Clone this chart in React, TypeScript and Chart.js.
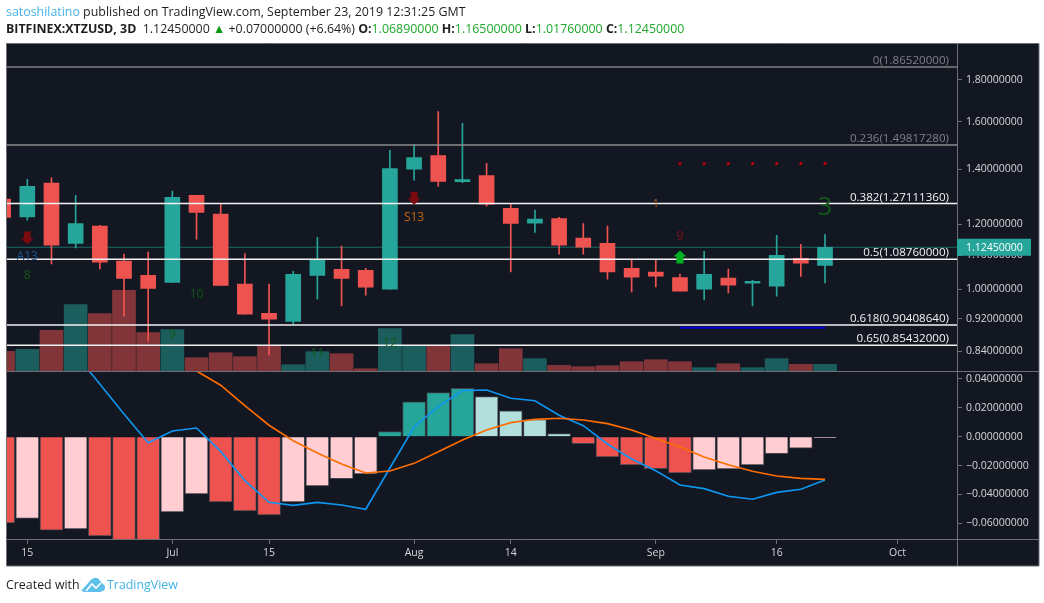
import React, { useEffect, useRef } from "react";
import { Chart, registerables } from "chart.js";

Chart.register(...registerables);

const FONT = '"Open Sans", "Noto Sans", sans-serif';
const RED = "#ef5350";
const TEAL = "#26a69a";

// candles, index -1 is the partial bar at the left edge
const barIndex = [-1, 0, 1, 2, 3, 4, 5, 6, 7, 8, 9, 10, 11, 12, 13, 14, 15, 16, 17, 18, 19, 20, 21, 22, 23, 24, 25, 26, 27, 28, 29, 30, 31, 32, 33];
const opens = [1.287, 1.224, 1.346, 1.137, 1.193, 1.082, 1.039, 1.019, 1.301, 1.234, 1.014, 0.934, 0.913, 1.039, 1.057, 1.054, 1.0, 1.4, 1.454, 1.352, 1.375, 1.254, 1.203, 1.219, 1.154, 1.137, 1.06, 1.049, 1.033, 1.0, 1.031, 1.017, 1.008, 1.09, 1.0689];
const highs = [1.287, 1.361, 1.366, 1.301, 1.196, 1.103, 1.109, 1.316, 1.301, 1.269, 1.105, 1.014, 1.051, 1.156, 1.128, 1.06, 1.476, 1.5, 1.646, 1.592, 1.423, 1.269, 1.248, 1.223, 1.202, 1.193, 1.087, 1.087, 1.043, 1.112, 1.058, 1.025, 1.163, 1.134, 1.165];
const lows = [1.223, 1.213, 1.073, 1.122, 1.058, 0.927, 0.864, 1.019, 1.15, 1.01, 0.932, 0.831, 0.907, 0.972, 0.954, 0.983, 1.0, 1.357, 1.334, 1.348, 1.262, 1.049, 1.172, 1.103, 1.103, 1.028, 0.992, 1.006, 0.994, 0.97, 0.989, 0.954, 0.98, 1.036, 1.0176];
const closes = [1.223, 1.334, 1.131, 1.202, 1.078, 1.03, 1.002, 1.294, 1.24, 1.01, 0.932, 0.919, 1.042, 1.084, 1.03, 1.005, 1.402, 1.446, 1.353, 1.36, 1.269, 1.202, 1.217, 1.131, 1.125, 1.049, 1.034, 1.037, 0.994, 1.042, 1.011, 1.022, 1.099, 1.075, 1.1245];
const volumes = [20, 22, 41, 66.7, 57.7, 81, 38.7, 41.7, 13.7, 18.7, 14.7, 26, 6.7, 19.7, 17.7, 2.7, 42.7, 25.7, 26.3, 36.7, 7.7, 22.7, 12.7, 6, 4.7, 5.7, 9.7, 11.7, 9.7, 3.7, 7.7, 3.7, 12.7, 7, 7];

// MACD pane
const histogram = [-0.0598, -0.0566, -0.0647, -0.064, -0.0688, -0.075, -0.072, -0.0522, -0.0397, -0.0453, -0.0515, -0.0543, -0.0453, -0.0342, -0.0291, -0.0259, 0.0035, 0.0242, 0.0305, 0.0335, 0.0277, 0.0178, 0.0118, 0.0021, -0.0048, -0.0141, -0.0196, -0.0222, -0.0252, -0.0231, -0.0224, -0.0196, -0.0118, -0.0079, -0.0007];
const histStrong = [1, 0, 1, 0, 1, 1, 1, 0, 0, 1, 1, 1, 0, 0, 0, 0, 1, 1, 1, 1, 0, 0, 0, 0, 1, 1, 1, 1, 1, 0, 0, 0, 0, 0, 0];
const macdLine = [0.085, 0.08, 0.07, 0.0568, 0.0365, 0.0157, -0.0042, 0.0039, 0.006, -0.0102, -0.0305, -0.0455, -0.0476, -0.0455, -0.0473, -0.0503, -0.0217, 0.0067, 0.0208, 0.0319, 0.0323, 0.0266, 0.0249, 0.0148, 0.0076, -0.0051, -0.0155, -0.0236, -0.0335, -0.036, -0.0413, -0.0434, -0.0386, -0.0365, -0.03];
const signalLine = [0.055, 0.058, 0.062, 0.066, 0.069, 0.07, 0.061, 0.053, 0.0455, 0.0356, 0.0215, 0.0079, -0.0028, -0.0113, -0.0189, -0.0252, -0.0238, -0.0185, -0.0104, -0.0023, 0.0046, 0.0097, 0.012, 0.0127, 0.0115, 0.009, 0.0046, -0.0012, -0.0072, -0.0141, -0.0194, -0.024, -0.0273, -0.0289, -0.0296];

// Fibonacci retracement
const fibRatios = ["0", "0.236", "0.382", "0.5", "0.618", "0.65"];
const fibLevels = [1.8652, 1.4981728, 1.2711136, 1.0876, 0.9040864, 0.85432];
const fibColors = ["#808080", "#8c8c8c", "#f2f2f2", "#f2f2f2", "#f2f2f2", "#f2f2f2"];

// axes
const priceTicks = [1.8, 1.6, 1.4, 1.2, 1.1, 1.0, 0.92, 0.84];
const macdTicks = [0.04, 0.02, 0, -0.02, -0.04, -0.06];
const timeTickIndex = [0, 6, 10, 16, 20, 26, 31, 36];
const timeTickLabels = ["15", "Jul", "15", "Aug", "14", "Sep", "16", "Oct"];
const xRange = [-0.84, 38.46];
const priceRange = [0.7937, 1.989];
const macdRange = [-0.0709, 0.0452];
const volumeRange = [-167.6, 327.4];
const lastPrice = 1.1245;

// study overlays
const dotIndex = [27, 28, 29, 30, 31, 32, 33];
const dotPrices = [1.422, 1.422, 1.422, 1.422, 1.422, 1.422, 1.422];
const blueIndex = [27, 33];
const bluePrices = [0.897, 0.897];
const labelIndex = [16, 0, 0, 7, 6, 12, 15, 26, 27, 33];
const labelPrices = [1.223, 1.094, 1.04, 0.986, 0.879, 0.8335, 0.857, 1.269, 1.16, 1.255];
const labelTexts = ["S13", "A13", "8", "10", "9", "11", "12", "1", "9", "3"];
const labelColors = ["#c4650f", "#17558f", "#0f5a16", "#0f5a16", "#0f5a16", "#0f5a16", "#0f5a16", "#c4650f", "#7d0f12", "#0f5a16"];
const labelSizes = [12, 12, 12, 12, 12, 12, 12, 10, 12, 25];
const arrowIndex = [0, 16, 27];
const arrowPrices = [1.154, 1.29, 1.094];
const arrowDirs = [-1, -1, 1];
const arrowColors = ["#7a0a0e", "#7a0a0e", "#00b020"];

const framePlugin = {
  id: "frame",
  beforeDraw(chart: any) {
    const { ctx, chartArea: a, width, height } = chart;
    const right = width - 5;
    const bottom = height - 37;
    const top = a.top - 1;
    const left = a.left - 0.5;
    ctx.save();
    ctx.fillStyle = "#131722";
    ctx.fillRect(left, top, right - left, bottom - top);
    ctx.restore();
  },
  afterDraw(chart: any) {
    const { ctx, chartArea: a, width, height, scales } = chart;
    const right = width - 5;
    const bottom = height - 37;
    const top = a.top - 0.5;
    const left = a.left - 0.5;
    ctx.save();
    ctx.strokeStyle = "#6e7076";
    ctx.lineWidth = 1;
    const paneY = Math.round(scales.yMain.bottom) + 0.5;
    const axisY = Math.round(a.bottom) + 0.5;
    const axisX = Math.round(a.right) + 0.5;
    ctx.beginPath();
    ctx.rect(left, top, right - left, bottom - top);
    ctx.moveTo(left, paneY);
    ctx.lineTo(right, paneY);
    ctx.moveTo(left, axisY);
    ctx.lineTo(right, axisY);
    ctx.moveTo(axisX, top);
    ctx.lineTo(axisX, bottom);
    ctx.stroke();

    // last price tag
    const y = scales.yMain.getPixelForValue(lastPrice);
    ctx.fillStyle = TEAL;
    ctx.fillRect(a.right, y - 8.5, 74, 17);
    ctx.fillStyle = "#ffffff";
    ctx.font = `10.5px ${FONT}`;
    ctx.textBaseline = "middle";
    ctx.textAlign = "left";
    ctx.fillText(lastPrice.toFixed(8), 966, y + 0.5);
    ctx.restore();
  },
  afterDatasetsDraw(chart: any) {
    const { ctx, chartArea: a, scales } = chart;
    const { x, yMain } = scales;
    ctx.save();
    // fib labels
    ctx.textAlign = "right";
    ctx.textBaseline = "bottom";
    ctx.font = `11.6px ${FONT}`;
    fibLevels.forEach((lv, i) => {
      const label = `${fibRatios[i]}(${lv.toFixed(8)})`;
      ctx.fillStyle = i < 2 ? "#7f8187" : "#f2f2f2";
      ctx.fillText(label, a.right - 8, yMain.getPixelForValue(lv) - 0.5);
    });
    // study labels
    ctx.textAlign = "center";
    ctx.textBaseline = "middle";
    labelTexts.forEach((t, i) => {
      ctx.font = `${labelSizes[i]}px ${FONT}`;
      ctx.fillStyle = labelColors[i];
      ctx.fillText(t, x.getPixelForValue(labelIndex[i]), yMain.getPixelForValue(labelPrices[i]));
    });
    // study arrows
    arrowIndex.forEach((idx, i) => {
      const cx = x.getPixelForValue(idx);
      const cy = yMain.getPixelForValue(arrowPrices[i]);
      const d = arrowDirs[i];
      ctx.fillStyle = arrowColors[i];
      ctx.beginPath();
      ctx.moveTo(cx, cy - 6.5 * d);
      ctx.lineTo(cx + 6.5, cy - 0.5 * d);
      ctx.lineTo(cx + 3.5, cy - 0.5 * d);
      ctx.lineTo(cx + 3.5, cy + 6.5 * d);
      ctx.lineTo(cx - 3.5, cy + 6.5 * d);
      ctx.lineTo(cx - 3.5, cy - 0.5 * d);
      ctx.lineTo(cx - 6.5, cy - 0.5 * d);
      ctx.closePath();
      ctx.fill();
    });
    ctx.restore();
  },
};

const candleColor = (i: number) => (closes[i] >= opens[i] ? TEAL : RED);
const volumeColor = (i: number) => (closes[i] >= opens[i] ? "rgba(38,166,154,0.5)" : "rgba(239,83,80,0.5)");
const histColor = (i: number) =>
  histogram[i] >= 0 ? (histStrong[i] ? TEAL : "#b2dfdb") : histStrong[i] ? RED : "#ffcdd2";

function buildDatasets(): any[] {
  const volumeSet = {
    type: "bar",
    label: "Volume",
    yAxisID: "yVol",
    order: 20,
    grouped: false,
    barThickness: 23,
    backgroundColor: barIndex.map((_, i) => volumeColor(i)),
    data: barIndex.map((x, i) => ({ x, y: volumes[i] })),
  };
  const wicks = {
    type: "bar",
    label: "Wicks",
    yAxisID: "yMain",
    order: 15,
    grouped: false,
    barThickness: 1,
    backgroundColor: barIndex.map((_, i) => candleColor(i)),
    data: barIndex.map((x, i) => ({ x, y: [lows[i], highs[i]] })),
  };
  const bodies = {
    type: "bar",
    label: "Bodies",
    yAxisID: "yMain",
    order: 14,
    grouped: false,
    barThickness: 15,
    backgroundColor: barIndex.map((_, i) => candleColor(i)),
    data: barIndex.map((x, i) => ({ x, y: [opens[i], closes[i]] })),
  };
  const lastLine = {
    type: "line",
    label: "Last",
    yAxisID: "yMain",
    order: 16,
    borderColor: "#1d6a66",
    borderWidth: 1,
    pointRadius: 0,
    data: xRange.map((x) => ({ x, y: lastPrice })),
  };
  const fibs = fibLevels.map((lv, i) => ({
    type: "line",
    label: `Fib ${fibRatios[i]}`,
    yAxisID: "yMain",
    order: 5,
    borderColor: fibColors[i],
    borderWidth: 1.5,
    pointRadius: 0,
    data: xRange.map((x) => ({ x, y: lv })),
  }));
  const dots = {
    type: "line",
    label: "Dots",
    yAxisID: "yMain",
    order: 4,
    showLine: false,
    pointRadius: 1.6,
    pointBackgroundColor: "#c00006",
    pointBorderWidth: 0,
    data: dotIndex.map((x, i) => ({ x, y: dotPrices[i] })),
  };
  const blue = {
    type: "line",
    label: "Blue",
    yAxisID: "yMain",
    order: 4,
    borderColor: "#0000d8",
    borderWidth: 2,
    pointRadius: 0,
    data: blueIndex.map((x, i) => ({ x, y: bluePrices[i] })),
  };
  const hist = {
    type: "bar",
    label: "Histogram",
    yAxisID: "yMacd",
    order: 9,
    grouped: false,
    barThickness: 23,
    borderWidth: 1,
    borderColor: "rgba(70,72,80,0.9)",
    backgroundColor: barIndex.map((_, i) => histColor(i)),
    data: barIndex.map((x, i) => ({ x, y: histogram[i] })),
  };
  const macd = {
    type: "line",
    label: "MACD",
    yAxisID: "yMacd",
    order: 8,
    borderColor: "#0d96f2",
    borderWidth: 1.6,
    pointRadius: 0,
    clip: 0,
    data: barIndex.map((x, i) => ({ x, y: macdLine[i] })),
  };
  const signal = {
    type: "line",
    label: "Signal",
    yAxisID: "yMacd",
    order: 7,
    borderColor: "#ff6d00",
    borderWidth: 1.6,
    pointRadius: 0,
    clip: 0,
    data: barIndex.map((x, i) => ({ x, y: signalLine[i] })),
  };
  return [volumeSet, wicks, bodies, lastLine, ...fibs, dots, blue, hist, macd, signal];
}

const axisFont = { family: FONT, size: 10.5 };
const grid = { display: true, drawOnChartArea: false, drawTicks: true, tickLength: 5, color: "#6e7076" };
const setWidth = (s: any) => {
  s.width = 82;
};

function ChartCanvas() {
  const ref = useRef<HTMLCanvasElement | null>(null);
  useEffect(() => {
    const chart = new Chart(ref.current as HTMLCanvasElement, {
      type: "bar",
      data: { datasets: buildDatasets() },
      plugins: [framePlugin],
      options: {
        animation: false,
        responsive: false,
        events: [],
        layout: { padding: { left: 7, top: 44, right: 5, bottom: 37 } },
        plugins: { legend: { display: false }, tooltip: { enabled: false }, title: { display: false } },
        scales: {
          x: {
            type: "linear",
            axis: "x",
            position: "bottom",
            min: xRange[0],
            max: xRange[1],
            offset: false,
            grid: { ...grid, offset: false },
            border: { display: false },
            afterFit: (s: any) => {
              s.height = 27;
            },
            afterBuildTicks: (s: any) => {
              s.ticks = timeTickIndex.map((value) => ({ value }));
            },
            ticks: {
              autoSkip: false,
              maxRotation: 0,
              color: "#d6d6d6",
              font: axisFont,
              padding: 3,
              callback: (v: any) => timeTickLabels[timeTickIndex.indexOf(v)],
            },
          },
          yMain: {
            type: "logarithmic",
            axis: "y",
            position: "right",
            stack: "right",
            stackWeight: 327.4,
            weight: 1,
            min: priceRange[0],
            max: priceRange[1],
            grid,
            border: { display: false },
            afterFit: setWidth,
            afterBuildTicks: (s: any) => {
              s.ticks = priceTicks.map((value) => ({ value }));
            },
            ticks: {
              autoSkip: false,
              color: "#d6d6d6",
              font: axisFont,
              padding: 4,
              crossAlign: "near",
              callback: (v: any) => Number(v).toFixed(8),
            },
          },
          yMacd: {
            type: "linear",
            axis: "y",
            position: "right",
            stack: "right",
            stackWeight: 167.6,
            weight: 2,
            min: macdRange[0],
            max: macdRange[1],
            grid,
            border: { display: false },
            afterFit: setWidth,
            afterBuildTicks: (s: any) => {
              s.ticks = macdTicks.map((value) => ({ value }));
            },
            ticks: {
              autoSkip: false,
              color: "#d6d6d6",
              font: axisFont,
              padding: 4,
              crossAlign: "near",
              callback: (v: any) => {
                const n = Number(v);
                return (n < 0 ? "\u2212" : "") + Math.abs(n).toFixed(8);
              },
            },
          },
          yVol: {
            type: "linear",
            axis: "y",
            position: "left",
            display: false,
            min: volumeRange[0],
            max: volumeRange[1],
          },
        },
      } as any,
    });
    return () => chart.destroy();
  }, []);
  return (
    <canvas ref={ref} width={1044} height={603} style={{ position: "absolute", left: 0, top: 0, width: 1044, height: 603 }} />
  );
}

const textBase: React.CSSProperties = {
  position: "absolute",
  fontFamily: FONT,
  whiteSpace: "nowrap",
  color: "#1e1e1e",
  lineHeight: "16px",
};
const green = { color: "#1fa82a" };

export default function App() {
  return (
    <div style={{ position: "fixed", left: 0, top: 0, width: 1044, height: 603, background: "#fff", overflow: "hidden" }}>
      <ChartCanvas />
      <div style={{ ...textBase, left: 6, top: 4, fontSize: 12.4 }}>
        <span style={{ color: "#45b4e6" }}>satoshilatino</span> published on TradingView.com, September 23, 2019 12:31:25 GMT
      </div>
      <div style={{ ...textBase, left: 6, top: 21, fontSize: 12.4 }}>
        <b>BITFINEX:XTZUSD, 3D</b>&nbsp; 1.12450000 <span style={{ color: "#0a9a0a" }}>▲</span> +0.07000000 (+6.64%) <b>O:</b>
        <span style={green}>1.06890000</span> <b>H:</b>
        <span style={green}>1.16500000</span> <b>L:</b>
        <span style={green}>1.01760000</span> <b>C:</b>
        <span style={green}>1.12450000</span>
      </div>
      <div style={{ ...textBase, left: 6, top: 577, fontSize: 12.4 }}>Created with</div>
      <svg width="25" height="16" viewBox="0 0 25 16" style={{ position: "absolute", left: 81, top: 577 }}>
        <path d="M0 14 L8 5 Q10 2 13 1 Q17 0 19 4 L24 9 L24 12 Q22 15 19 15 L4 15 Z" fill="#5cc0ea" />
        <path d="M5 14 L11 7 L15 11 L20 6" fill="none" stroke="#ffffff" strokeWidth="1.6" />
      </svg>
      <div style={{ ...textBase, left: 107, top: 577, fontSize: 12.4, color: "#45b4e6" }}>TradingView</div>
    </div>
  );
}
